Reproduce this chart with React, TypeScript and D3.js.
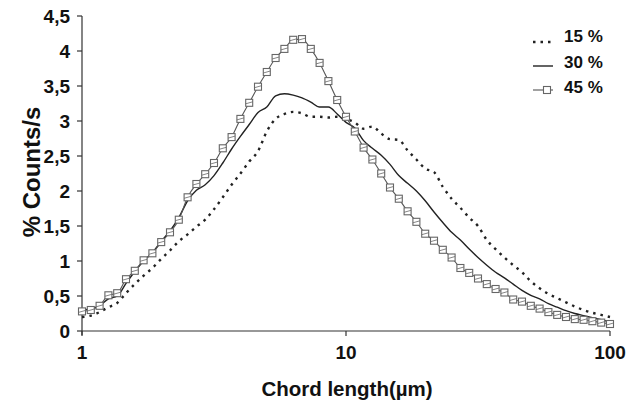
import * as d3 from 'd3';

// chord length bins: 30 per decade from 1 to 100 µm
const binIndex = d3.range(61);
const chordLength = binIndex.map(i => Math.pow(10, i / 30));

const counts15 = [
  0.20, 0.22, 0.27, 0.34, 0.40, 0.54, 0.67, 0.79, 0.90, 1.03,
  1.15, 1.28, 1.38, 1.49, 1.59, 1.74, 1.91, 2.09, 2.25, 2.42,
  2.57, 2.85, 3.03, 3.10, 3.13, 3.11, 3.06, 3.06, 3.05, 3.06,
  3.03, 2.98, 2.89, 2.92, 2.82, 2.74, 2.73, 2.58, 2.45, 2.32,
  2.27, 2.06, 1.89, 1.76, 1.62, 1.50, 1.30, 1.17, 1.05, 0.94,
  0.84, 0.71, 0.61, 0.53, 0.47, 0.41, 0.35, 0.30, 0.26, 0.23, 0.20,
];
const counts30 = [
  0.30, 0.32, 0.36, 0.46, 0.50, 0.68, 0.85, 1.00, 1.12, 1.28,
  1.43, 1.62, 1.86, 2.01, 2.09, 2.22, 2.40, 2.60, 2.78, 2.95,
  3.12, 3.20, 3.36, 3.39, 3.37, 3.33, 3.27, 3.20, 3.20, 3.10,
  2.98, 2.90, 2.72, 2.61, 2.51, 2.38, 2.22, 2.11, 2.00, 1.86,
  1.70, 1.55, 1.41, 1.30, 1.17, 1.05, 0.94, 0.84, 0.76, 0.67,
  0.58, 0.51, 0.46, 0.39, 0.34, 0.29, 0.25, 0.22, 0.19, 0.16, 0.13,
];
const counts45 = [
  0.28, 0.30, 0.36, 0.51, 0.54, 0.74, 0.86, 1.01, 1.11, 1.27,
  1.41, 1.59, 1.91, 2.10, 2.24, 2.40, 2.61, 2.77, 3.03, 3.26,
  3.49, 3.70, 3.90, 4.03, 4.16, 4.17, 4.03, 3.83, 3.57, 3.30,
  3.06, 2.85, 2.62, 2.45, 2.25, 2.05, 1.89, 1.71, 1.56, 1.39,
  1.29, 1.16, 1.05, 0.90, 0.83, 0.75, 0.67, 0.60, 0.55, 0.45,
  0.42, 0.36, 0.32, 0.27, 0.23, 0.20, 0.17, 0.16, 0.14, 0.12, 0.10,
];

const yTicks = [0, 0.5, 1, 1.5, 2, 2.5, 3, 3.5, 4, 4.5];
const xTicks = [1, 10, 100];
const legendLabels = ['15 %', '30 %', '45 %'];

const W = 633;
const H = 401;
const FONT = '"Liberation Sans", Arial, sans-serif';

const fmt = (v: number) => String(v).replace('.', ',');

export default function App() {
  const x = d3.scaleLog().domain([1, 100]).range([82, 610]);
  const y = d3.scaleLinear().domain([0, 4.5]).range([331, 16]);

  const line = (vals: number[]) =>
    d3.line<number>()
      .x((_, i) => x(chordLength[i]))
      .y(d => y(d))
      .curve(d3.curveMonotoneX)(vals) as string;

  const legendY = [40, 66, 90];

  return (
    <svg width={W} height={H} style={{ position: 'absolute', left: 0, top: 0, background: '#fff' }}
      fontFamily={FONT}>
      {/* axes */}
      <line x1={82} x2={82} y1={16} y2={335} stroke="#333" strokeWidth={1.2} />
      <line x1={82} x2={610} y1={331} y2={331} stroke="#333" strokeWidth={1.2} />
      {yTicks.map(t => (
        <g key={t}>
          <line x1={77} x2={82} y1={y(t)} y2={y(t)} stroke="#333" strokeWidth={1.2} />
          <text x={70} y={y(t)} dy="0.36em" textAnchor="end" fontSize={19} fontWeight="bold" fill="#111">
            {fmt(t)}
          </text>
        </g>
      ))}
      {xTicks.map(t => (
        <g key={t}>
          <line x1={x(t)} x2={x(t)} y1={331} y2={336} stroke="#333" strokeWidth={1.2} />
          <text x={x(t)} y={359} textAnchor="middle" fontSize={19} fontWeight="bold" fill="#111">
            {t}
          </text>
        </g>
      ))}
      <text x={347} y={396} textAnchor="middle" fontSize={20.5} fontWeight="bold" fill="#111">
        Chord length(µm)
      </text>
      <text transform="translate(31,172) rotate(-90)" textAnchor="middle" dy="0.36em" fontSize={24}
        fontWeight="bold" fill="#111">
        % Counts/s
      </text>

      {/* series */}
      <path d={line(counts15)} fill="none" stroke="#222" strokeWidth={2.4} strokeDasharray="2.5,5" />
      <path d={line(counts30)} fill="none" stroke="#222" strokeWidth={1.4} />
      <path d={line(counts45)} fill="none" stroke="#555" strokeWidth={1.1} />
      {counts45.map((v, i) => (
        <g key={i}>
          <rect x={x(chordLength[i]) - 3.5} y={y(v) - 3.5} width={7} height={7} fill="#fff"
            stroke="#666" strokeWidth={1.1} />
          <line x1={x(chordLength[i]) - 3.5} x2={x(chordLength[i]) + 3.5} y1={y(v) + 1} y2={y(v) - 1}
            stroke="#666" strokeWidth={0.8} />
        </g>
      ))}

      {/* legend */}
      <line x1={533} x2={551} y1={legendY[0] + 2} y2={legendY[0] + 2} stroke="#222" strokeWidth={2.4}
        strokeDasharray="2.5,5" />
      <line x1={533} x2={553} y1={legendY[1]} y2={legendY[1]} stroke="#222" strokeWidth={1.4} />
      <line x1={533} x2={553} y1={legendY[2]} y2={legendY[2]} stroke="#555" strokeWidth={1.1} />
      <rect x={543.5} y={legendY[2] - 3.5} width={7} height={7} fill="#fff" stroke="#666" strokeWidth={1.1} />
      {legendLabels.map((l, i) => (
        <text key={l} x={564} y={[36, 62, 87][i]} dy="0.36em" fontSize={17} fontWeight="bold" fill="#111">
          {l}
        </text>
      ))}
    </svg>
  );
}
